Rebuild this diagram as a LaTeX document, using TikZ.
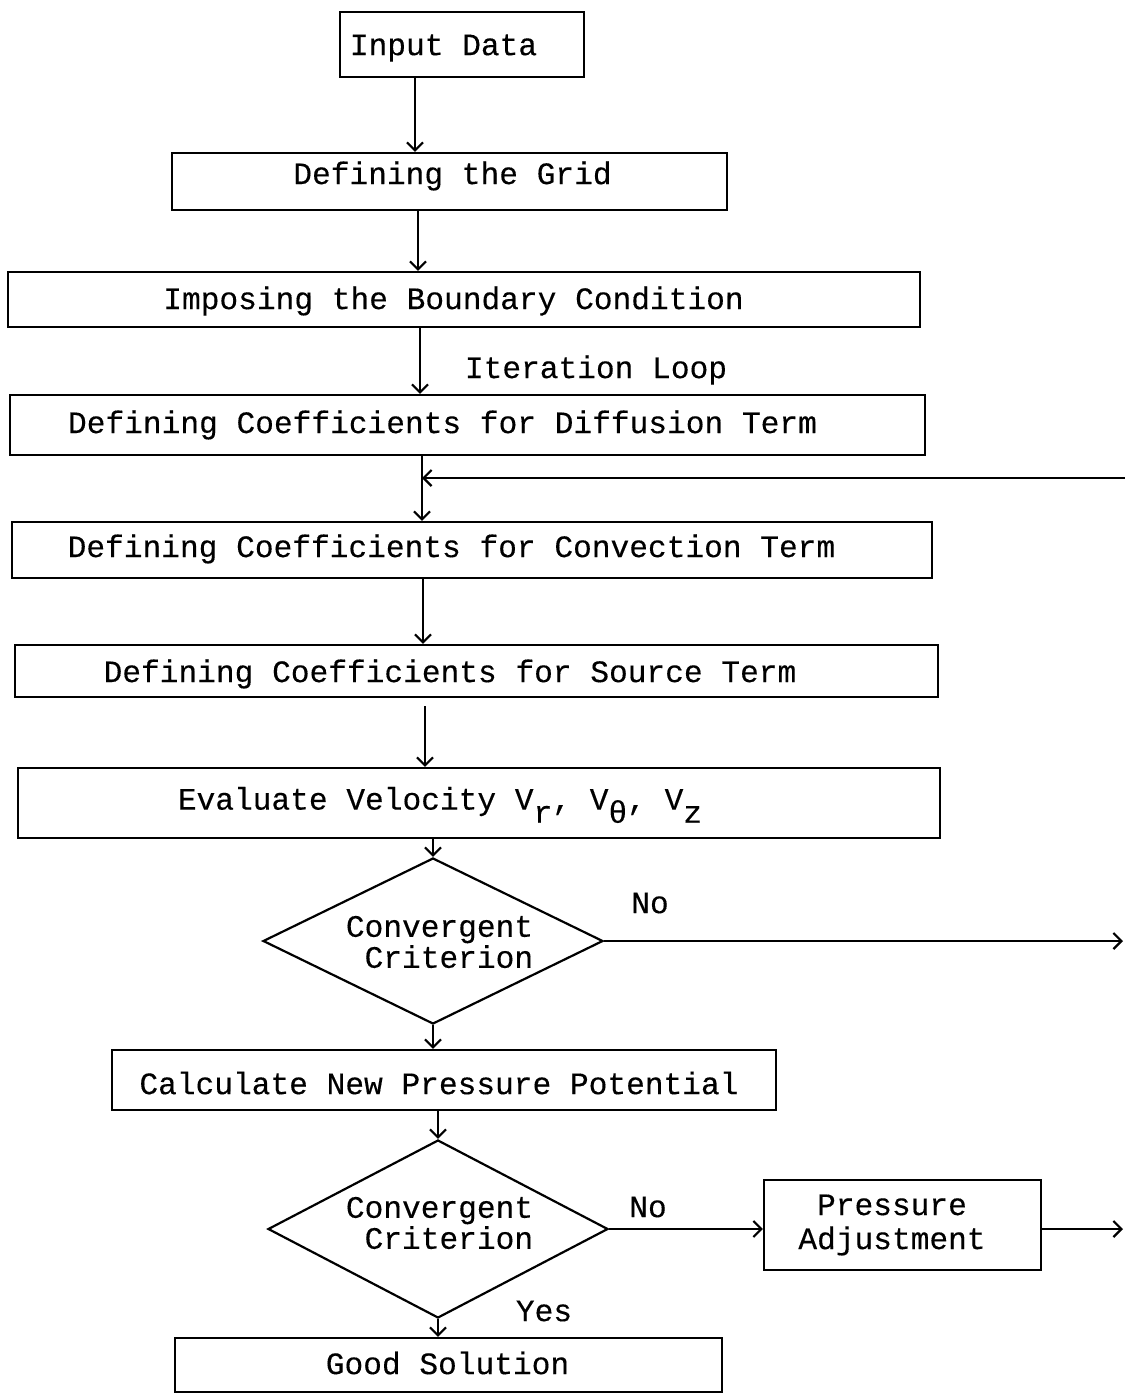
\documentclass[tikz,border=0pt]{standalone}
\usepackage{fontspec}
\setmainfont[FakeBold=0.3]{Liberation Mono}
\usetikzlibrary{shapes.geometric,arrows.meta}
\newcommand{\dnsub}[1]{\raisebox{-0.42em}{#1}}
\begin{document}
\begin{tikzpicture}[x=0.5pt,y=-0.5pt,
  box/.style={draw,line width=1.1pt,inner sep=0pt,rectangle},
  dia/.style={draw,line width=1.1pt,inner sep=0pt,diamond},
  txt/.style={font=\fontsize{15.6}{15.5}\selectfont,inner sep=0pt,align=center},
  arr/.style={-{Straight Barb[length=4pt,width=8pt]},line width=1.1pt}]
\useasboundingbox (0,0) rectangle (1125,1393);

% boxes
\node[box,minimum width=122pt,minimum height=32.5pt] (b1) at (462,44.5) {};
\node[box,minimum width=277.5pt,minimum height=28.5pt] (b2) at (449.5,181.5) {};
\node[box,minimum width=456pt,minimum height=27.5pt] (b3) at (464,299.5) {};
\node[box,minimum width=457.5pt,minimum height=30pt] (b4) at (467.5,425) {};
\node[box,minimum width=460pt,minimum height=28pt] (b5) at (472,550) {};
\node[box,minimum width=461.5pt,minimum height=26pt] (b6) at (476.5,671) {};
\node[box,minimum width=461pt,minimum height=35pt] (b7) at (479,803) {};
\node[dia,minimum width=170pt,minimum height=83pt] (d1) at (433,941) {};
\node[box,minimum width=332pt,minimum height=30pt] (b8) at (444,1080) {};
\node[dia,minimum width=170pt,minimum height=89pt] (d2) at (438,1229) {};
\node[box,minimum width=138.5pt,minimum height=45pt] (pa) at (902.5,1225) {};
\node[box,minimum width=273.5pt,minimum height=27pt] (b9) at (448.5,1365) {};

% texts
\node[txt] (t1) at (443.5,48) {Input Data};
\node[txt] (t2) at (452.5,176) {Defining the Grid};
\node[txt] (t3) at (453.5,301) {Imposing the Boundary Condition};
\node[txt] (t4) at (442.5,425) {Defining Coefficients for Diffusion Term};
\node[txt] (t5) at (451.5,549) {Defining Coefficients for Convection Term};
\node[txt] (t6) at (450,674) {Defining Coefficients for Source Term};
\node[txt] (t7) at (440,805) {Evaluate Velocity V\dnsub{r}, V\dnsub{θ}, V\dnsub{z}};
\node[txt,align=right] (td1) at (439.5,942) {Convergent\\Criterion};
\node[txt] (t8) at (439,1083) {Calculate New Pressure Potential};
\node[txt,align=right] (td2) at (439.5,1223) {Convergent\\Criterion};
\node[txt,font=\fontsize{15.6}{17}\selectfont] (tpa) at (892,1225) {Pressure\\Adjustment};
\node[txt] (t9) at (447.5,1363) {Good Solution};

% labels
\node[txt] (lit) at (596,370) {Iteration Loop};
\node[txt] (lno1) at (650,903) {No};
\node[txt] (lno2) at (648,1207) {No};
\node[txt] (lyes) at (544,1311) {Yes};

% connector x positions
\coordinate (x1) at (415,0);
\coordinate (x2) at (418,0);
\coordinate (x3) at (420,0);
\coordinate (x4) at (422,0);
\coordinate (x5) at (423,0);
\coordinate (x6) at (425,0);
\coordinate (j) at (422,478);
\coordinate (fb) at (1125,478);
\coordinate (o1) at (1123,0);
\coordinate (o2) at (1123,0);

% connectors
\draw[arr] (b1.south -| x1) -- (b2.north -| x1);
\draw[arr] (b2.south -| x2) -- (b3.north -| x2);
\draw[arr] (b3.south -| x3) -- (b4.north -| x3);
\draw[arr] (b4.south -| x4) -- (b5.north -| x4);
\draw[arr] (fb) -- (j);
\draw[arr] (b5.south -| x5) -- (b6.north -| x5);
\draw[arr] ([yshift=-4pt]b6.south -| x6) -- (b7.north -| x6);
\draw[arr] (b7.south -| d1.north) -- (d1.north);
\draw[arr] (d1.east) -- (d1.east -| o1);
\draw[arr] (d1.south) -- (b8.north -| d1.south);
\draw[arr] (b8.south -| d2.north) -- (d2.north);
\draw[arr] (d2.east) -- (pa.west |- d2.east);
\draw[arr] (pa.east |- d2.east) -- (d2.east -| o2);
\draw[arr] (d2.south) -- (b9.north -| d2.south);
\end{tikzpicture}
\end{document}
